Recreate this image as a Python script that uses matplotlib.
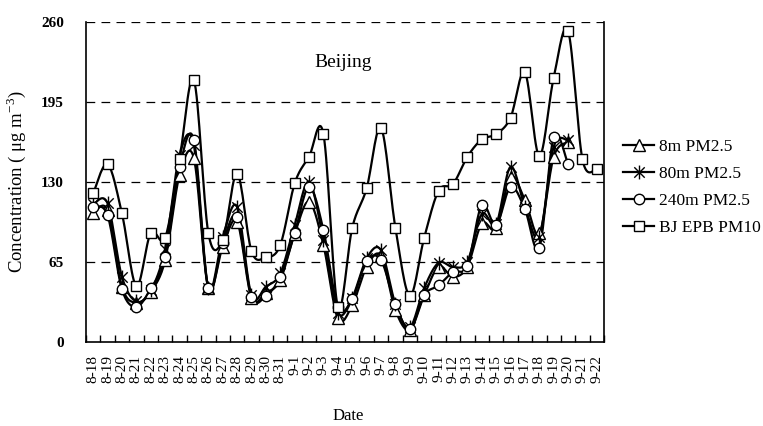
import numpy as np
import matplotlib
matplotlib.use("Agg")
import matplotlib.pyplot as plt
from matplotlib.path import Path

# ----- данные -----
dates = ["8-%d" % d for d in range(18, 32)] + ["9-%d" % d for d in range(1, 23)]

pm25_8m = [104.5, 107, 45, 32, 41, 66.6, 135.7, 149.2, 44, 77.4, 97.8, 36, 40, 50.4,
           88, 114, 78.8, 19.2, 30, 61.2, 70, 26, 10, 38, 61.2, 53, 61.2, 96.4, 92.4,
           134.3, 115.4, 88.3, 150.6, 162.7]
pm25_80m = [112, 112.7, 53, 33, 42, 76, 152, 160, 44, 85.6, 110, 38, 45, 55.8,
            95, 130.3, 82.9, 24, 36, 68, 74.7, 31, 12, 44, 64.5, 61, 65.3, 104, 96,
            142.4, 110, 85.6, 158.7, 164]
pm25_240m = [110, 103, 42.8, 28.7, 43.6, 68.8, 141.9, 164, 44.1, 80.7, 101.8, 36.8, 37.6, 53,
             88.3, 126.2, 91, 28.7, 34.7, 65.8, 66.6, 30.6, 10.3, 38.2, 46, 57.1, 62, 111.3, 95,
             126.2, 108, 76.6, 166.3, 144.6]
pm10_epb = [120.8, 144.6, 104.5, 45.5, 88.8, 84.8, 148.7, 212.9, 88.8, 82.9, 137, 73.9, 68.8, 78.8,
            128.9, 150.6, 169, 28.7, 92.9, 124.9, 174.1, 92.9, 37.6, 84.8, 123, 128.4, 150.6, 164.7,
            169, 182.3, 219.1, 151.1, 215, 252.9, 148.4, 140.6]

labels = ["8m PM2.5", "80m PM2.5", "240m PM2.5", "BJ EPB PM10"]
yticks = [0, 65, 130, 195, 260]

plt.rcParams['font.family'] = ['Liberation Serif', 'DejaVu Serif']
plt.rcParams['mathtext.fontset'] = 'custom'
plt.rcParams['mathtext.rm'] = 'Liberation Serif'

# маркер-звездочка как в Excel
star = Path([(0, -1), (0, 1), (-0.75, -0.75), (0.75, 0.75), (-0.75, 0.75), (0.75, -0.75)],
            [Path.MOVETO, Path.LINETO, Path.MOVETO, Path.LINETO, Path.MOVETO, Path.LINETO])


# сглаженная линия (Catmull-Rom), как "сглаженная линия" в Excel
def smooth(x, y, n=16):
    x = np.asarray(x, float)
    y = np.asarray(y, float)
    px = np.concatenate([[x[0]], x, [x[-1]]])
    py = np.concatenate([[y[0]], y, [y[-1]]])
    t = np.linspace(0, 1, n, endpoint=False)
    xs, ys = [], []
    for i in range(1, len(px) - 2):
        for arr, out in ((px, xs), (py, ys)):
            p0, p1, p2, p3 = arr[i - 1], arr[i], arr[i + 1], arr[i + 2]
            out.extend(0.5 * (2 * p1 + (-p0 + p2) * t + (2 * p0 - 5 * p1 + 4 * p2 - p3) * t ** 2
                              + (-p0 + 3 * p1 - 3 * p2 + p3) * t ** 3))
    xs.append(x[-1])
    ys.append(y[-1])
    return xs, ys


fig = plt.figure(figsize=(7.63, 4.26), dpi=100)
ax = fig.add_axes([0.1127, 0.197, 0.679, 0.751])

series = [(pm25_8m, '^', 8.5), (pm25_80m, star, 10), (pm25_240m, 'o', 7.5), (pm10_epb, 's', 7.5)]
handles = []
for (vals, mk, ms), lab in zip(series, labels):
    x = np.arange(len(vals))
    sx, sy = smooth(x, vals)
    ax.plot(sx, sy, color='black', lw=1.6, zorder=2)
    ax.plot(x, vals, ls='none', marker=mk, ms=ms, mfc='white', mec='black', mew=1.0, zorder=3)
    h, = ax.plot([], [], color='black', lw=1.6, marker=mk, ms=ms, mfc='white', mec='black', mew=1.0)
    handles.append(h)

ax.set_xlim(-0.5, len(dates) - 0.5)
ax.set_ylim(0, 260)
ax.set_yticks(yticks)
ax.set_yticklabels([str(v) for v in yticks], fontweight='bold', fontsize=11)
ax.tick_params(axis='y', length=0, pad=16)
ax.set_xticks(np.arange(len(dates)))
ax.set_xticklabels(dates, rotation=90, fontsize=11)
ax.set_xticks(np.arange(len(dates) + 1) - 0.5, minor=True)
ax.tick_params(axis='x', which='major', length=0, pad=9)
ax.tick_params(axis='x', which='minor', direction='in', length=5, width=1)

for v in yticks[1:]:
    ax.axhline(v, color='black', lw=0.9, ls=(0, (7, 5)), zorder=1)
ax.spines['top'].set_visible(False)
for s in ('left', 'bottom', 'right'):
    ax.spines[s].set_linewidth(1.2)

ax.set_ylabel('Concentration ( μg m$^{-3}$)', fontsize=13.5, labelpad=9)
fig.text(348 / 763, 1 - 416 / 426, 'Date', ha='center', va='center', fontsize=12)
ax.text(0.497, 0.875, 'Beijing', transform=ax.transAxes, ha='center', va='center', fontsize=14)

fig.legend(handles, labels, loc='upper left', bbox_to_anchor=(0.796, 0.71), frameon=False,
           fontsize=12.5, handlelength=1.8, handletextpad=0.3, labelspacing=0.62)

fig.savefig('out.png', dpi=100)
